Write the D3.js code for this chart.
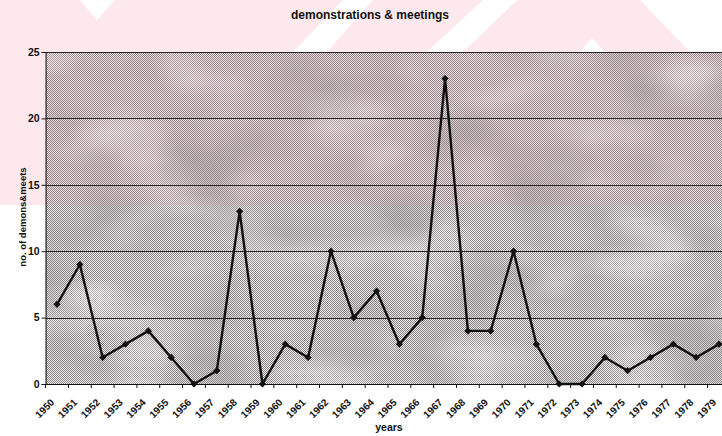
<!DOCTYPE html>
<html>
<head>
<meta charset="utf-8">
<script src="https://cdn.jsdelivr.net/npm/d3@7"></script>
<style>
  body { margin: 0; background: #fff; overflow: hidden; }
  text { font-family: "Liberation Sans", Arial, sans-serif; font-weight: bold; fill: #111; }
</style>
</head>
<body>
<svg id="chart"></svg>
<script>
// chart data
let years = ['1950', '1951', '1952', '1953', '1954', '1955', '1956', '1957', '1958', '1959',
  '1960', '1961', '1962', '1963', '1964', '1965', '1966', '1967', '1968', '1969',
  '1970', '1971', '1972', '1973', '1974', '1975', '1976', '1977', '1978', '1979'];
let counts = [6, 9, 2, 3, 4, 2, 0, 1, 13, 0,
  3, 2, 10, 5, 7, 3, 5, 23, 4, 4,
  10, 3, 0, 0, 2, 1, 2, 3, 2, 3];
let yTicks = [0, 5, 10, 15, 20, 25];

let vWidth = 722;
let vHeight = 436;
let pLeft = 45.6, pRight = 730.4, pTop = 52, pBottom = 384;

let svg = d3.select('#chart')
  .attr('width', vWidth)
  .attr('height', vHeight);

let defs = svg.append('defs');

// dithered grey fill of the plot area
let pat = defs.append('pattern')
  .attr('id', 'dither')
  .attr('width', 2)
  .attr('height', 2)
  .attr('patternUnits', 'userSpaceOnUse');
pat.append('rect').attr('width', 2).attr('height', 2).attr('fill', '#f2eef0');
pat.append('rect').attr('width', 1).attr('height', 1).attr('fill', '#878183');
pat.append('rect').attr('x', 1).attr('y', 1).attr('width', 1).attr('height', 1).attr('fill', '#878183');

// soft light / dark blotches like the scanned background
function blotch(id, seed, freq, tone, gain, bias) {
  let f = defs.append('filter').attr('id', id)
    .attr('x', 0).attr('y', 0).attr('width', 1).attr('height', 1);
  f.append('feTurbulence')
    .attr('type', 'fractalNoise')
    .attr('baseFrequency', freq)
    .attr('numOctaves', 2)
    .attr('seed', seed);
  f.append('feColorMatrix')
    .attr('type', 'matrix')
    .attr('values', `0 0 0 0 ${tone}  0 0 0 0 ${tone}  0 0 0 0 ${tone}  ${gain} 0 0 0 ${bias}`);
}
blotch('lightSpots', 7, '0.010 0.018', 1, -3, 1.5);
blotch('darkSpots', 21, '0.012 0.016', 0.3, 3, -1.4);

// pink watermark behind everything
let bg = svg.append('g');
bg.append('rect')
  .attr('width', vWidth)
  .attr('height', 205)
  .attr('fill', '#fde9ed');
let whiteShapes = [
  [[80, 0], [115, 0], [97, 20]],
  [[343, 0], [373, 0], [327, 52], [293, 52]],
  [[483, 0], [517, 0], [463, 52], [427, 52]],
  [[640, 0], [722, 0], [722, 52], [690, 52]],
  [[580, 52], [592, 37], [604, 52]]
];
bg.selectAll('polygon.w')
  .data(whiteShapes)
  .enter()
  .append('polygon')
  .attr('class', 'w')
  .attr('points', (d) => d.map((p) => p.join(',')).join(' '))
  .attr('fill', '#fff');

let x = d3.scaleBand()
  .domain(years)
  .range([pLeft, pRight]);

let y = d3.scaleLinear()
  .domain([0, 25])
  .range([pBottom, pTop]);

// plot area
let plot = svg.append('g');
plot.append('rect')
  .attr('x', pLeft)
  .attr('y', pTop)
  .attr('width', pRight - pLeft)
  .attr('height', pBottom - pTop)
  .attr('fill', 'url(#dither)');
['lightSpots', 'darkSpots'].forEach((id) => {
  plot.append('rect')
    .attr('x', pLeft)
    .attr('y', pTop)
    .attr('width', pRight - pLeft)
    .attr('height', pBottom - pTop)
    .attr('filter', `url(#${id})`)
    .attr('opacity', 0.45);
});
plot.append('rect')
  .attr('x', pLeft)
  .attr('y', pTop)
  .attr('width', pRight - pLeft)
  .attr('height', 205 - pTop)
  .attr('fill', '#e0909f')
  .attr('opacity', 0.13);

// gridlines
svg.append('g')
  .selectAll('line')
  .data(yTicks.filter((d) => d > 0))
  .enter()
  .append('line')
  .attr('x1', pLeft)
  .attr('x2', pRight)
  .attr('y1', (d) => Math.round(y(d)) + 0.5)
  .attr('y2', (d) => Math.round(y(d)) + 0.5)
  .attr('stroke', '#2a2527')
  .attr('stroke-width', 1);

// y axis
let yAxis = svg.append('g')
  .attr('transform', `translate(${pLeft},0)`)
  .call(d3.axisLeft(y).tickValues(yTicks).tickSize(4).tickPadding(2));
yAxis.select('.domain').attr('stroke', '#111');
yAxis.selectAll('line').attr('stroke', '#111');
yAxis.selectAll('text').style('font-size', '10.5px').attr('fill', '#111');

// x axis
let xAxis = svg.append('g')
  .attr('transform', `translate(0,${pBottom})`)
  .call(d3.axisBottom(x).tickSize(0).tickFormat(''));
xAxis.select('.domain').attr('stroke', '#111');
xAxis.selectAll('line.edge')
  .data(years)
  .enter()
  .append('line')
  .attr('class', 'edge')
  .attr('x1', (d) => x(d))
  .attr('x2', (d) => x(d))
  .attr('y1', 0)
  .attr('y2', 4)
  .attr('stroke', '#111');
xAxis.selectAll('text.lbl')
  .data(years)
  .enter()
  .append('text')
  .attr('class', 'lbl')
  .attr('transform', (d) => `translate(${x(d) + x.bandwidth() / 2 - 2},19) rotate(-45)`)
  .attr('text-anchor', 'end')
  .style('font-size', '10px')
  .text((d) => d);

// line and markers
let pts = years.map((d, i) => [x(d) + x.bandwidth() / 2, y(counts[i])]);

svg.append('path')
  .datum(pts)
  .attr('d', d3.line())
  .attr('fill', 'none')
  .attr('stroke', '#111')
  .attr('stroke-width', 2.4)
  .attr('stroke-linejoin', 'round');

svg.append('g')
  .selectAll('path')
  .data(pts)
  .enter()
  .append('path')
  .attr('transform', (d) => `translate(${d[0]},${d[1]}) rotate(45)`)
  .attr('d', d3.symbol(d3.symbolSquare, 26))
  .attr('fill', '#111');

// titles
svg.append('text')
  .attr('x', 370)
  .attr('y', 19)
  .attr('text-anchor', 'middle')
  .style('font-size', '12px')
  .text('demonstrations & meetings');

svg.append('text')
  .attr('x', 389)
  .attr('y', 431)
  .attr('text-anchor', 'middle')
  .style('font-size', '10.5px')
  .text('years');

svg.append('text')
  .attr('transform', 'translate(26,217) rotate(-90)')
  .attr('text-anchor', 'middle')
  .style('font-size', '9.5px')
  .text('no. of demons&meets');
</script>
</body>
</html>
